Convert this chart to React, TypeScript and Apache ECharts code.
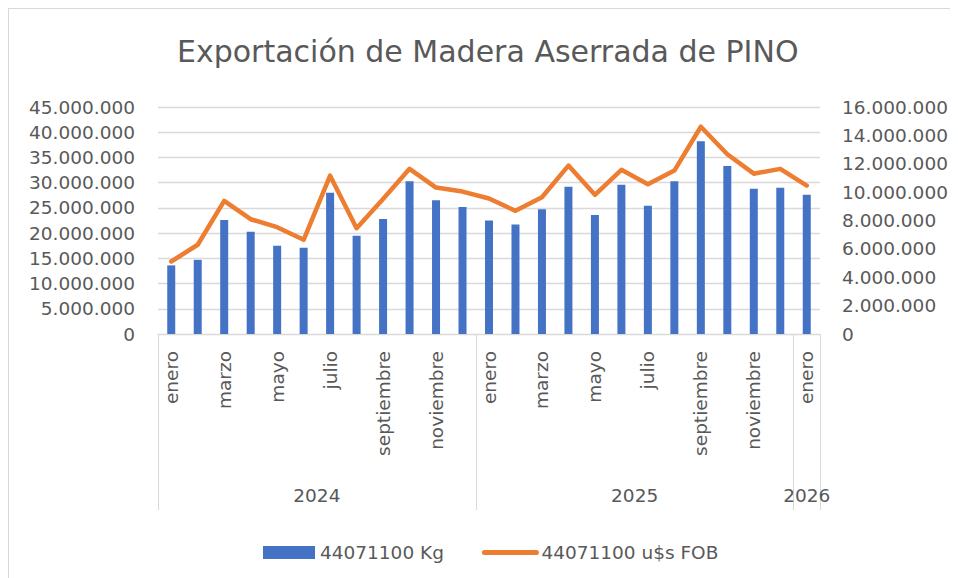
import React, { useEffect, useRef } from "react";
import * as echarts from "echarts";

const months = [
  "enero", "febrero", "marzo", "abril", "mayo", "junio", "julio", "agosto",
  "septiembre", "octubre", "noviembre", "diciembre",
  "enero", "febrero", "marzo", "abril", "mayo", "junio", "julio", "agosto",
  "septiembre", "octubre", "noviembre", "diciembre",
  "enero",
];
const years = ["2024", "2025", "2026"];
const yearCenters = [6, 18, 24.5];
const yearBounds = [0, 12, 24, 25];

const kgValues = [
  13600000, 14700000, 22600000, 20250000, 17500000, 17100000, 28000000, 19500000,
  22800000, 30300000, 26500000, 25200000, 22500000, 21700000, 24750000, 29200000,
  23600000, 29600000, 25400000, 30300000, 38200000, 33300000, 28800000, 29000000,
  27600000,
];
const fobValues = [
  5110000, 6290000, 9380000, 8090000, 7530000, 6640000, 11160000, 7460000,
  9520000, 11640000, 10320000, 10040000, 9550000, 8680000, 9640000, 11870000,
  9810000, 11570000, 10560000, 11520000, 14610000, 12670000, 11300000, 11640000,
  10460000,
];

const fmt = (v: number) =>
  String(Math.round(v)).replace(/\B(?=(\d{3})+(?!\d))/g, ".");

const FONT = "DejaVu Sans";
const GRAY = "#595959";
const LINE = "#d9d9d9";

export default function App() {
  const ref = useRef<HTMLDivElement>(null);
  useEffect(() => {
    if (!ref.current) return;
    const chart = echarts.init(ref.current, undefined, { renderer: "svg" });
    chart.setOption({
      animation: false,
      textStyle: { fontFamily: FONT, color: GRAY },
      title: {
        text: "Exportación de Madera Aserrada de PINO",
        left: 163,
        top: 22,
        textStyle: { fontFamily: FONT, fontSize: 30, fontWeight: "normal", color: GRAY },
      },
      legend: {
        left: 249,
        top: 529,
        itemWidth: 52,
        itemHeight: 13,
        itemGap: 38,
        textStyle: { fontFamily: FONT, fontSize: 18.5, color: GRAY },
        data: [
          { name: "44071100 Kg", icon: "rect" },
          {
            name: "44071100 u$s FOB",
            itemStyle: { opacity: 0, color: "transparent", borderWidth: 0 },
            lineStyle: { width: 5, cap: "round", color: "#ED7D31" },
          },
        ],
      },
      grid: { left: 149, top: 98, width: 662, height: 227, containLabel: false },
      xAxis: [
        {
          type: "category",
          data: months,
          boundaryGap: true,
          position: "bottom",
          axisLine: { show: true, lineStyle: { color: LINE, width: 1 } },
          axisTick: { show: false },
          axisLabel: {
            interval: 1,
            rotate: 90,
            margin: 17,
            fontFamily: FONT,
            fontSize: 18.5,
            color: GRAY,
          },
          splitLine: { show: false },
        },
        {
          type: "value",
          min: 0,
          max: 25,
          position: "bottom",
          axisLine: { show: false },
          axisTick: {
            show: true,
            customValues: yearBounds,
            length: 176,
            lineStyle: { color: LINE, width: 1 },
          },
          axisLabel: {
            show: true,
            customValues: yearCenters,
            margin: 152,
            fontFamily: FONT,
            fontSize: 18.5,
            color: GRAY,
            formatter: (v: number) => {
              const i = yearCenters.indexOf(v);
              return i >= 0 ? years[i] : "";
            },
          },
          splitLine: { show: false },
        },
      ],
      yAxis: [
        {
          type: "value",
          min: 0,
          max: 45000000,
          interval: 5000000,
          axisLine: { show: false },
          axisTick: { show: false },
          axisLabel: { margin: 23, fontFamily: FONT, fontSize: 18.5, color: GRAY, formatter: fmt },
          splitLine: { show: true, lineStyle: { color: LINE, width: 1.3 } },
        },
        {
          type: "value",
          min: 0,
          max: 16000000,
          interval: 2000000,
          axisLine: { show: false },
          axisTick: { show: false },
          axisLabel: { margin: 22, fontFamily: FONT, fontSize: 18.5, color: GRAY, formatter: fmt },
          splitLine: { show: false },
        },
      ],
      series: [
        {
          name: "44071100 Kg",
          type: "bar",
          xAxisIndex: 0,
          yAxisIndex: 0,
          data: kgValues,
          barWidth: 8,
          itemStyle: { color: "#4472C4" },
        },
        {
          name: "44071100 u$s FOB",
          type: "line",
          xAxisIndex: 0,
          yAxisIndex: 1,
          data: fobValues,
          symbol: "none",
          lineStyle: { color: "#ED7D31", width: 4.5, cap: "round", join: "round" },
          itemStyle: { color: "#ED7D31" },
        },
      ],
    });
    return () => chart.dispose();
  }, []);
  return (
    <div
      style={{
        width: 950,
        height: 570,
        boxSizing: "border-box",
        borderTop: "1px solid #d9d9d9",
        borderLeft: "1px solid #d9d9d9",
      }}
    >
      <div ref={ref} style={{ width: 949, height: 569 }} />
    </div>
  );
}
